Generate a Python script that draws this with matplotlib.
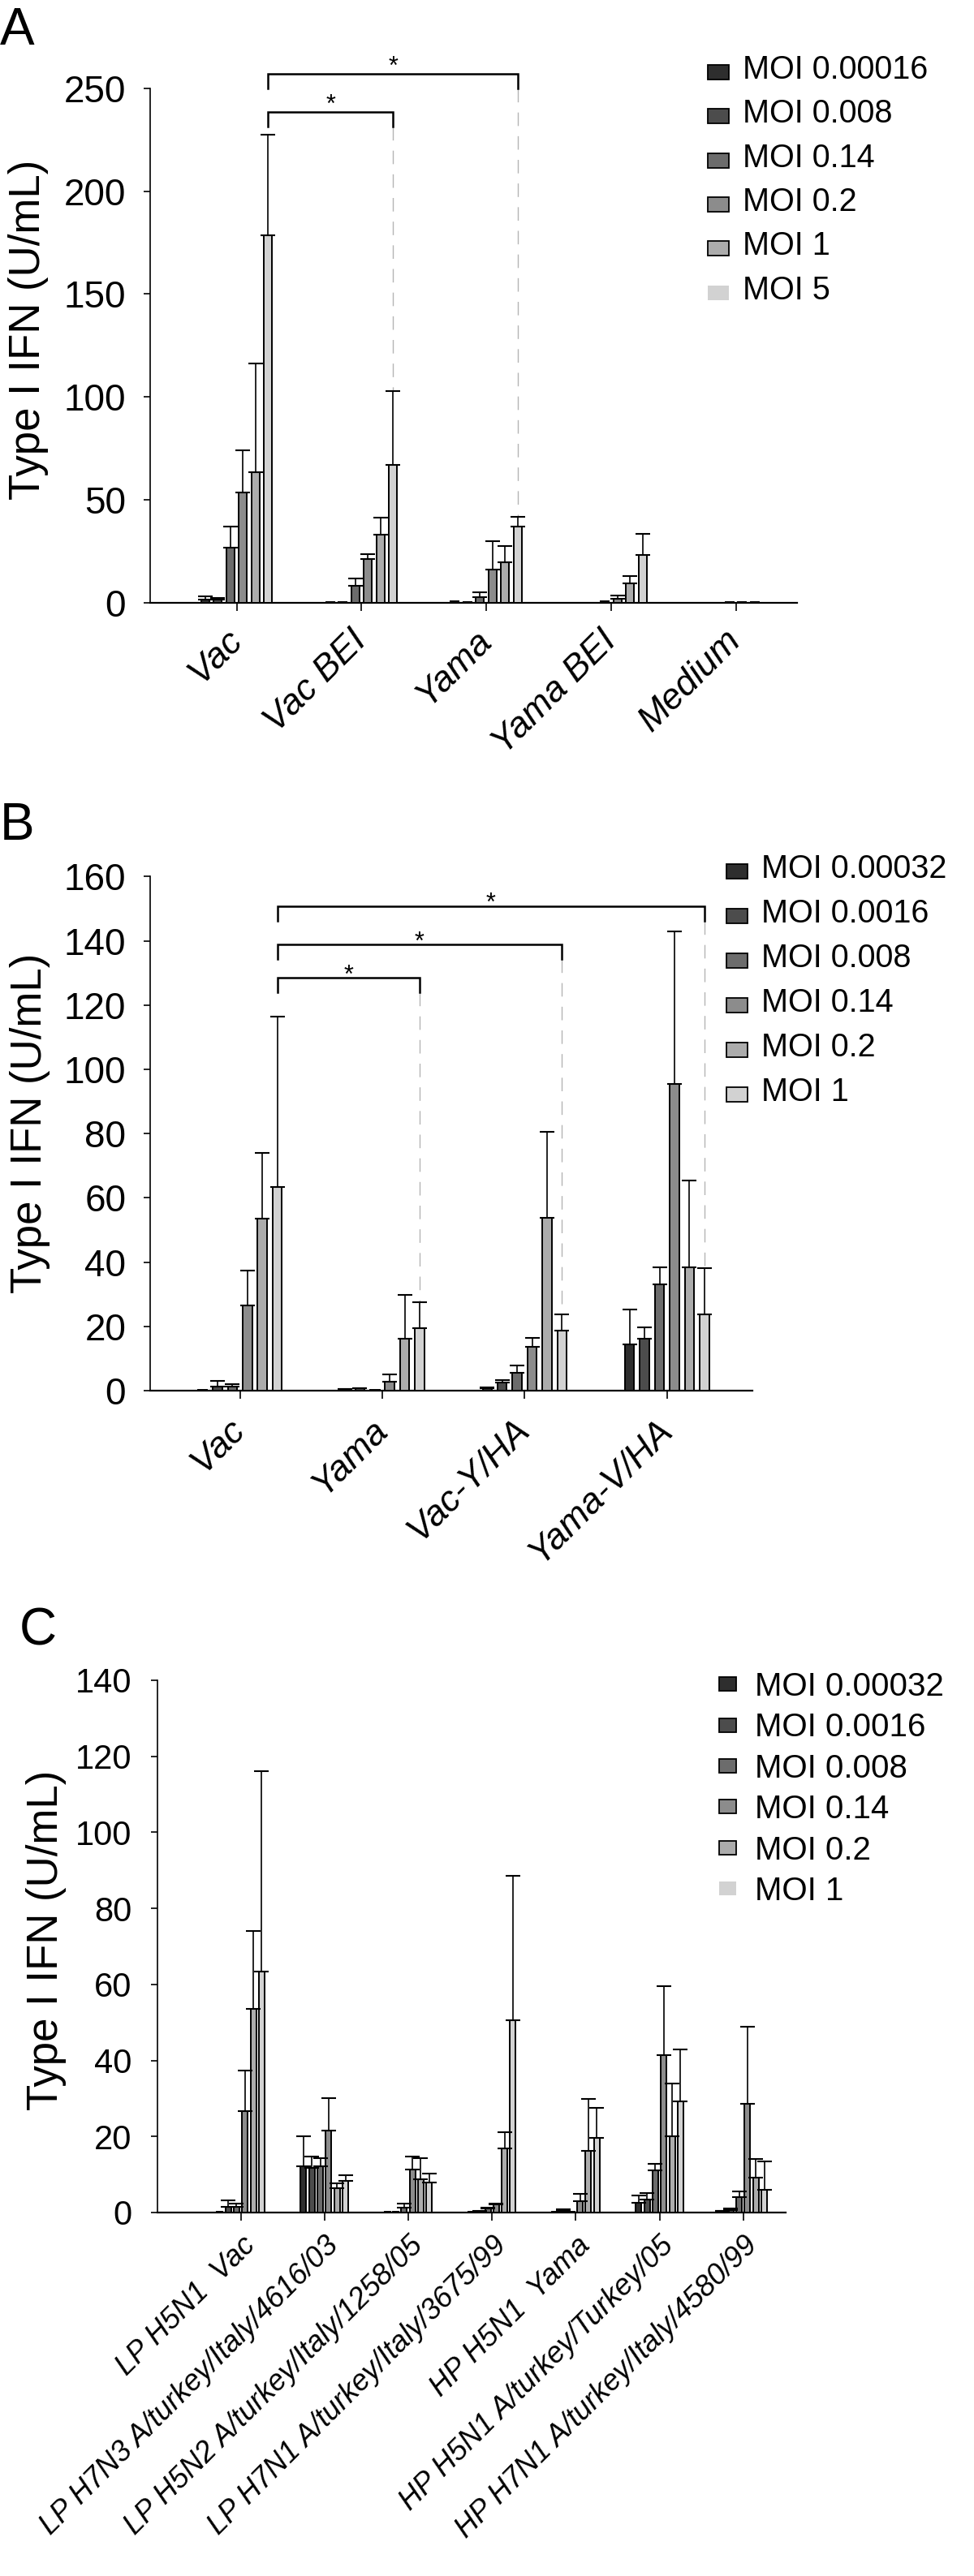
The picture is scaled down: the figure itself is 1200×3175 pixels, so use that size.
import matplotlib
matplotlib.use("Agg")
import matplotlib.pyplot as plt
from matplotlib.patches import Rectangle
import numpy as np

plt.rcParams['font.family'] = ['Liberation Sans', 'DejaVu Sans']

W, H = 1200, 3175

# grey shades of the six MOI series, darkest first
greys = ["#2e2e2e", "#4c4c4c", "#6c6c6c", "#8c8c8c", "#acacac", "#d2d2d2"]

# ---- panel A ----
A_groups = ["Vac", "Vac BEI", "Yama", "Yama BEI", "Medium"]
A_moi = ["MOI 0.00016", "MOI 0.008", "MOI 0.14", "MOI 0.2", "MOI 1", "MOI 5"]
A_mean = np.array([
    [1.7, 1.6, 26.7, 53.5, 63.6, 178.6],
    [0.2, 0.4, 8.4, 21.4, 33.1, 67.0],
    [0.8, 0.2, 2.9, 16.0, 19.5, 36.9],
    [0.1, 0.1, 0.8, 2.0, 9.5, 23.1],
    [0.1, 0.1, 0.2, 0.4, 0.2, 0.1],
])
A_sd = np.array([
    [1.4, 0.6, 10.5, 20.5, 52.7, 48.9],
    [0.0, 0.0, 3.5, 2.2, 8.4, 36.0],
    [0.0, 0.0, 2.0, 13.9, 7.9, 5.0],
    [0.0, 0.0, 0.0, 1.7, 3.4, 10.3],
    [0.0, 0.0, 0.0, 0.0, 0.0, 0.0],
])
# significance brackets: target group, bar level, tip level, star centre
A_sig_target = [1, 2]
A_sig_y = [238.5, 257.0]
A_sig_tip = [231.5, 250.0]
A_sig_star = [245.6, 264.0]

# ---- panel B ----
B_groups = ["Vac", "Yama", "Vac-Y/HA", "Yama-V/HA"]
B_moi = ["MOI 0.00032", "MOI 0.0016", "MOI 0.008", "MOI 0.14", "MOI 0.2", "MOI 1"]
B_mean = np.array([
    [0.3, 1.35, 1.2, 26.6, 53.5, 63.4],
    [0.5, 0.7, 0.25, 2.8, 16.1, 19.5],
    [0.7, 2.4, 5.6, 13.6, 53.9, 18.75],
    [14.4, 16.1, 33.0, 95.5, 38.5, 23.7],
])
B_sd = np.array([
    [0.0, 1.6, 0.9, 10.7, 20.6, 53.1],
    [0.1, 0.1, 0.0, 2.2, 13.8, 7.9],
    [0.3, 1.0, 2.3, 2.9, 26.6, 4.95],
    [10.8, 3.5, 5.3, 47.5, 27.0, 14.5],
])
B_sig_target = [1, 2, 3]
B_sig_y = [128.5, 138.9, 150.8]
B_sig_tip = [124.0, 134.3, 146.2]
B_sig_star = [131.6, 141.9, 154.0]

# ---- panel C ----
C_groups = ["LP H5N1  Vac", "LP H7N3 A/turkey/Italy/4616/03",
            "LP H5N2 A/turkey/Italy/1258/05", "LP H7N1 A/turkey/Italy/3675/99",
            "HP H5N1  Yama", "HP H5N1 A/turkey/Turkey/05",
            "HP H7N1 A/turkey/Italy/4580/99"]
C_moi = B_moi
C_mean = np.array([
    [0.2, 1.5, 1.5, 26.6, 53.5, 63.4],
    [12.1, 11.8, 12.2, 21.5, 6.3, 8.4],
    [0.2, 0.2, 1.3, 11.4, 8.7, 7.8],
    [0.2, 0.3, 1.0, 2.1, 16.9, 50.5],
    [0.3, 0.5, 0.2, 3.0, 16.2, 19.7],
    [2.5, 3.5, 11.1, 41.5, 20.0, 29.3],
    [0.4, 0.7, 4.0, 28.5, 9.1, 6.0],
])
C_sd = np.array([
    [0.0, 1.6, 0.8, 10.7, 20.5, 52.8],
    [7.9, 2.9, 2.2, 8.5, 1.4, 1.4],
    [0.0, 0.0, 1.0, 3.3, 5.6, 2.5],
    [0.0, 0.1, 0.2, 0.3, 4.2, 38.1],
    [0.0, 0.4, 0.0, 2.0, 13.7, 7.9],
    [1.9, 1.7, 1.6, 18.1, 13.9, 13.6],
    [0.1, 0.3, 1.5, 20.3, 4.9, 7.5],
])

fig = plt.figure(figsize=(W / 100, H / 100), dpi=100)


def px_rect(left, right, top, bottom):
    return [left / W, 1 - bottom / H, (right - left) / W, (bottom - top) / H]


def draw_bars(ax, means, sds, pitch, width):
    n_groups, n_series = means.shape
    x = np.arange(n_groups)
    offsets = (np.arange(n_series) - (n_series - 1) / 2) * pitch
    for j in range(n_series):
        xs = x + offsets[j]
        ax.bar(xs, means[:, j], width, color=greys[j], edgecolor='black',
               linewidth=1.4, zorder=3)
        m = sds[:, j] > 0
        ax.errorbar(xs[m], means[m, j], yerr=[np.zeros(m.sum()), sds[m, j]],
                    fmt='none', ecolor='black', elinewidth=1.2, capsize=6.5,
                    capthick=1.5, zorder=4)
    return x, offsets


def style(ax, ylim, yticks, ytick_fs, ypad, ylabel_xy, groups, xtick_fs, xpad, va):
    ax.set_ylim(*ylim)
    ax.set_yticks(yticks)
    for s in ['top', 'right']:
        ax.spines[s].set_visible(False)
    ax.spines['left'].set_linewidth(1.2)
    ax.spines['bottom'].set_linewidth(1.6)
    ax.tick_params(axis='y', direction='out', length=5.5, width=1.2,
                   labelsize=ytick_fs, pad=ypad)
    ax.tick_params(axis='x', direction='out', length=7, width=1.2, pad=xpad)
    ax.set_xticks(np.arange(len(groups)))
    ax.set_xticklabels(groups, rotation=45, ha='right', va=va,
                       rotation_mode='anchor', fontstyle='italic',
                       fontsize=xtick_fs)
    ax.set_ylabel("Type I IFN (U/mL)", fontsize=38)
    ax.yaxis.label.set_va('center')
    ax.yaxis.set_label_coords(*ylabel_xy)


def brackets(ax, x0, xs_target, ys, tips, stars, dash_to):
    for x1, y, tip, st, d in zip(xs_target, ys, tips, stars, dash_to):
        ax.plot([x0, x0, x1, x1], [tip, y, y, tip], color='black', lw=1.8,
                clip_on=False, zorder=5, solid_joinstyle='miter')
        ax.plot([x1, x1], [tip, d], color='#b4b4b4', lw=1.0,
                ls=(0, (12, 9)), clip_on=False, zorder=1)
        ax.annotate('*', xy=((x0 + x1) / 2, st), xytext=(0, -0.58 * 22),
                    textcoords='offset points', ha='center', va='baseline',
                    fontsize=22, annotation_clip=False)


def legend(labels, box_x, box_w, box_h, text_x, y0, step, base_off, fs, last_edge):
    for i, lab in enumerate(labels):
        y = y0 + i * step
        ec = 'black' if (i < len(labels) - 1 or last_edge) else 'none'
        fig.add_artist(Rectangle((box_x / W, 1 - (y + box_h / 2) / H), box_w / W,
                                 box_h / H, transform=fig.transFigure,
                                 facecolor=greys[i], edgecolor=ec, linewidth=1.3))
        fig.text(text_x / W, 1 - (y + base_off) / H, lab, fontsize=fs,
                 va='baseline', ha='left')


# ---- A ----
axA = fig.add_axes(px_rect(185, 982, 108.7, 742.9))
xA, offA = draw_bars(axA, A_mean, A_sd, 0.101, 0.065)
axA.set_xlim(-0.693, 4.49)
style(axA, (0, 250), np.arange(0, 251, 50), 33, 16, (-0.188, 0.53),
      A_groups, 32, 22, 'center')
brackets(axA, xA[0] + offA[5], [xA[t] + offA[5] for t in A_sig_target],
         A_sig_y, A_sig_tip, A_sig_star,
         [A_mean[t, 5] + A_sd[t, 5] for t in A_sig_target])
legend(A_moi, 872, 26, 18, 915, 88.7, 54.4, 8, 28.5, False)
fig.text(0, 1 - 8 / H, "A", fontsize=46, va='top', ha='left')

# ---- B ----
axB = fig.add_axes(px_rect(185, 927, 1080.4, 1714))
xB, offB = draw_bars(axB, B_mean, B_sd, 0.105, 0.066)
axB.set_xlim(-0.63, 3.6)
style(axB, (0, 160), np.arange(0, 161, 20), 33, 16, (-0.1995, 0.52),
      B_groups, 32, 23, 'center')
brackets(axB, xB[0] + offB[5], [xB[t] + offB[5] for t in B_sig_target],
         B_sig_y, B_sig_tip, B_sig_star,
         [B_mean[t, 5] + B_sd[t, 5] for t in B_sig_target])
legend(B_moi, 895, 26, 18, 938, 1074, 55, 8, 28.5, True)
fig.text(0, 1 - 988 / H, "B", fontsize=46, va='top', ha='left')

# ---- C ----
axC = fig.add_axes(px_rect(194, 968, 2071, 2727))
xC, offC = draw_bars(axC, C_mean, C_sd, 0.1, 0.068)
axC.set_xlim(-0.994, 6.506)
style(axC, (0, 140), np.arange(0, 141, 20), 30, 17, (-0.177, 0.512),
      C_groups, 26, 9.5, 'top')
legend(C_moi, 886, 21, 17, 930, 2075.6, 50.4, 14.5, 29, False)
fig.text(24 / W, 1 - 1981 / H, "C", fontsize=46, va='top', ha='left')

fig.savefig("out.png", dpi=100)
